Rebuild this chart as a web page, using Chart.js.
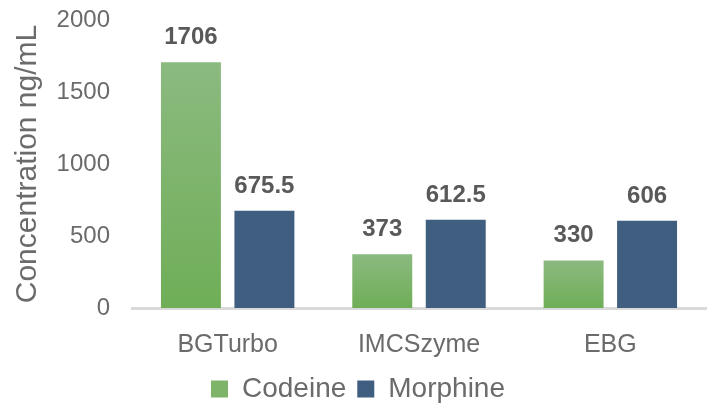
<!DOCTYPE html>
<html>
<head>
<meta charset="utf-8">
<script src="https://cdn.jsdelivr.net/npm/chart.js@4"></script>
<style>
  html, body { margin: 0; padding: 0; background: #fff; }
  #wrap { width: 713px; height: 408px; }
</style>
</head>
<body>
<div id="wrap"><canvas id="concChart"></canvas></div>
<script>
// chart data
const kits = ['BGTurbo', 'IMCSzyme', 'EBG'];
const codeine = [1706, 373, 330];
const morphine = [675.5, 612.5, 606];
const yTicks = [0, 500, 1000, 1500, 2000];

const fontFam = '"Liberation Sans", Arial, Helvetica, sans-serif';

// green bars fade lighter toward the top of each bar
function greenFill(ctx) {
    const chart = ctx.chart;
    const y = chart.scales.y;
    if (!y || ctx.dataIndex === undefined) return '#7db46a';
    const top = y.getPixelForValue(ctx.raw);
    const base = y.getPixelForValue(0);
    if (!isFinite(top) || !isFinite(base) || top === base) return '#7db46a';
    const g = chart.ctx.createLinearGradient(0, top, 0, base);
    g.addColorStop(0, '#8bba80');
    g.addColorStop(1, '#6fae57');
    return g;
}

// value labels above the bars
const valueLabels = {
    id: 'valueLabels',
    afterDatasetsDraw(chart) {
        const c = chart.ctx;
        c.save();
        c.font = 'bold 24px ' + fontFam;
        c.fillStyle = '#595959';
        c.textAlign = 'center';
        c.textBaseline = 'alphabetic';
        chart.data.datasets.forEach((ds, i) => {
            chart.getDatasetMeta(i).data.forEach((bar, j) => {
                c.fillText(String(ds.data[j]), bar.x, bar.y - 18);
            });
        });
        c.restore();
    }
};

const ctx = document.getElementById('concChart').getContext('2d');
const concChart = new Chart(ctx, {
    type: 'bar',
    data: {
        labels: kits,
        datasets: [
            {
                label: 'Codeine',
                data: codeine,
                backgroundColor: greenFill,
                categoryPercentage: 0.768,
                barPercentage: 0.816
            },
            {
                label: 'Morphine',
                data: morphine,
                backgroundColor: '#3f5e80',
                categoryPercentage: 0.768,
                barPercentage: 0.816
            }
        ]
    },
    options: {
        responsive: true,
        maintainAspectRatio: false,
        animation: false,
        layout: { padding: { top: 20, right: 7, left: 10, bottom: -5 } },
        scales: {
            y: {
                min: 0,
                max: 2000,
                afterBuildTicks: (s) => { s.ticks = yTicks.map(v => ({ value: v })); },
                grid: { display: false, drawTicks: false },
                border: { display: false },
                ticks: {
                    color: '#6b6b6b',
                    padding: 22,
                    font: { family: fontFam, size: 24 },
                    callback: (v) => String(v)
                },
                title: {
                    display: true,
                    text: 'Concentration ng/mL',
                    color: '#6b6b6b',
                    padding: 0,
                    font: { family: fontFam, size: 30 }
                },
                afterFit: (s) => { s.width = 122; s.paddingTop = 0; s.paddingBottom = 0; }
            },
            x: {
                grid: { display: false, drawTicks: false },
                border: { display: true, color: '#d9d9d9', width: 3 },
                ticks: {
                    color: '#6b6b6b',
                    padding: 22,
                    font: { family: fontFam, size: 25 }
                },
                afterFit: (s) => { s.height = 56; }
            }
        },
        plugins: {
            legend: {
                position: 'bottom',
                labels: {
                    color: '#6b6b6b',
                    boxWidth: 17,
                    boxHeight: 17,
                    padding: 11,
                    font: { family: fontFam, size: 28 },
                    generateLabels: (chart) => chart.data.datasets.map((ds, i) => ({
                        text: ds.label,
                        fillStyle: i === 0 ? '#7db46a' : '#3f5e80',
                        strokeStyle: 'rgba(0,0,0,0)',
                        lineWidth: 0,
                        fontColor: '#6b6b6b',
                        datasetIndex: i
                    }))
                }
            },
            tooltip: { enabled: false }
        }
    },
    plugins: [valueLabels]
});
</script>
</body>
</html>
